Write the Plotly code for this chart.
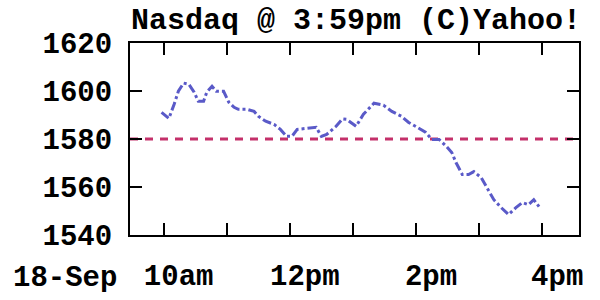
import plotly.graph_objects as go

# time in minutes since midnight on 18-Sep
times = [598, 605, 610, 614, 619, 624, 629, 633, 638, 641, 646, 650, 657, 662, 667,
         671, 679, 686, 690, 697, 705, 711, 717, 722, 727, 745, 750, 755, 764, 770,
         774, 783, 790, 800, 809, 817, 826, 833, 841, 849, 855, 862, 869, 874, 878,
         884, 890, 895, 902, 907, 914, 921, 928, 935, 941, 947, 952, 957]
values = [1591.1, 1588.6, 1594.5, 1599.9, 1603.3, 1602.8, 1599.5, 1595.7, 1595.7, 1599.5,
          1602.0, 1599.9, 1599.9, 1595.3, 1593.2, 1592.4, 1592.4, 1591.5, 1589.5, 1587.4,
          1586.1, 1584.0, 1581.1, 1581.1, 1584.0, 1584.9, 1581.1, 1581.9, 1585.3, 1588.4,
          1588.2, 1585.3, 1590.3, 1594.9, 1594.1, 1591.5, 1589.5, 1586.9, 1584.9, 1582.8,
          1579.8, 1579.8, 1576.9, 1574.4, 1570.2, 1565.2, 1565.2, 1566.4, 1563.9, 1560.2,
          1554.7, 1551.4, 1548.5, 1551.4, 1553.5, 1552.6, 1554.7, 1551.8]
prev_close = 1580
x_tickvals = [600, 660, 720, 780, 840, 900, 960]
x_ticktext = ["10am", "", "12pm", "", "2pm", "", "4pm"]
y_tickvals = [1540, 1560, 1580, 1600, 1620]
date_label = "18-Sep"
title_text = "Nasdaq @ 3:59pm (C)Yahoo!"

x_range = [568, 995]
font = "Liberation Mono"

fig = go.Figure()
fig.add_trace(go.Scatter(
    x=x_range, y=[prev_close, prev_close], mode="lines",
    line=dict(color="#c4306a", width=3, dash="8px,7px"), hoverinfo="skip"))
fig.add_trace(go.Scatter(
    x=times, y=values, mode="lines",
    line=dict(color="#5a5ac8", width=3, dash="dashdot")))

fig.update_layout(
    width=600, height=300,
    margin=dict(l=130, r=21, t=43, b=65),
    paper_bgcolor="white", plot_bgcolor="white",
    showlegend=False,
    title=dict(text=title_text, x=356 / 600, xanchor="center", xref="container",
               y=1 - 18 / 300, yanchor="middle", yref="container",
               font=dict(family=font, size=30, color="black", weight="bold")),
    font=dict(family=font, color="black"),
)
fig.update_xaxes(
    range=x_range, tickmode="array", tickvals=x_tickvals, ticktext=x_ticktext,
    ticks="inside", ticklen=12, tickwidth=2, tickcolor="black",
    showline=True, linewidth=2, linecolor="black", mirror="ticks",
    showgrid=False, zeroline=False, automargin=False,
    tickfont=dict(family=font, size=29, weight="bold"),
    ticklabelstandoff=13, ticklabelshift=15,
)
fig.update_yaxes(
    range=[1540, 1620], tickmode="array", tickvals=y_tickvals,
    ticks="inside", ticklen=12, tickwidth=2, tickcolor="black",
    showline=True, linewidth=2, linecolor="black", mirror="ticks",
    showgrid=False, zeroline=False, automargin=False,
    tickfont=dict(family=font, size=29, weight="bold"),
    ticklabelstandoff=10,
)
fig.add_annotation(
    text=date_label, xref="paper", yref="paper", x=(65 - 130) / 449, y=0,
    xanchor="center", yanchor="top", yshift=-25, showarrow=False,
    font=dict(family=font, size=29, weight="bold", color="black"))

fig.write_html("out.html")
